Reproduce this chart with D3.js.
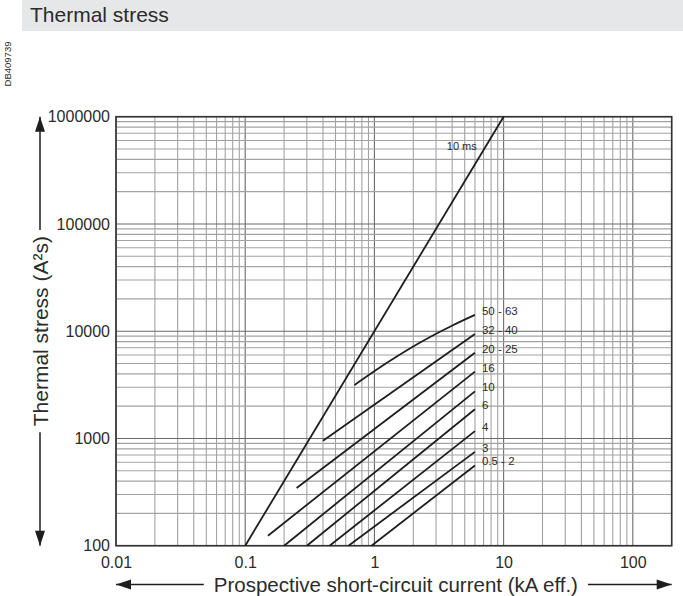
<!DOCTYPE html>
<html>
<head>
<meta charset="utf-8">
<script src="https://cdn.jsdelivr.net/npm/d3@7/dist/d3.min.js"></script>
<style>
  html, body { margin: 0; padding: 0; background: #fff; }
  svg { display: block; font-family: "Liberation Sans", Arial, sans-serif; }
</style>
</head>
<body>
<svg id="chart" width="683" height="596"></svg>
<script>
// ---- Data ----
const titleText = "Thermal stress";
const docCode = "DB409739";
const xTitle = "Prospective short-circuit current (kA eff.)";
const yTitle = "Thermal stress (A²s)";
const xDomain = [0.01, 200];
const yDomain = [100, 1000000];
const xTickValues = [0.01, 0.1, 1, 10, 100];
const xTickLabels = ["0.01", "0.1", "1", "10", "100"];
const yTickValues = [100, 1000, 10000, 100000, 1000000];
const yTickLabels = ["100", "1000", "10000", "100000", "1000000"];

// 10 ms limit line
const limitLabel = "10 ms";
const limitI = [0.1, 10];
const limitI2t = [100, 1000000];

// breaker rating curves
const seriesLabels = ["50 - 63", "32 - 40", "20 - 25", "16", "10", "6", "4", "3", "0.5 - 2"];
const seriesI = [
  [0.7, 1.26, 2.24, 3.98, 6],
  [0.4, 6],
  [0.25, 6],
  [0.15, 6],
  [0.2, 6],
  [0.3, 6],
  [0.45, 6],
  [0.63, 6],
  [0.95, 6]
];
const seriesI2t = [
  [3150, 5100, 7800, 11250, 14200],
  [950, 9400],
  [345, 6300],
  [124, 4200],
  [100, 2750],
  [100, 1870],
  [100, 1170],
  [100, 750],
  [100, 560]
];

// ---- Layout ----
const svg = d3.select("#chart");
const pLeft = 116, pRight = 671.7, pTop = 116.7, pBottom = 545.7;
const x = d3.scaleLog().domain(xDomain).range([pLeft, pRight]);
const y = d3.scaleLog().domain(yDomain).range([pBottom, pTop]);
const textColor = "#2b2b2b";

// Title bar
svg.append("rect").attr("x", 22).attr("y", 0).attr("width", 661).attr("height", 31).attr("fill", "#e6e7e8");
svg.append("text").attr("x", 30).attr("y", 22).attr("font-size", 21).attr("fill", textColor).text(titleText);

// Doc code
svg.append("text")
  .attr("transform", "translate(11,64) rotate(-90)")
  .attr("text-anchor", "middle").attr("font-size", 9.5).attr("fill", textColor)
  .text(docCode);

// Grid
const isDecade = v => Math.abs(Math.log10(v) - Math.round(Math.log10(v))) < 1e-9;
const grid = svg.append("g");
x.ticks().forEach(v => {
  grid.append("line").attr("x1", x(v)).attr("x2", x(v)).attr("y1", pTop).attr("y2", pBottom)
    .attr("stroke", isDecade(v) ? "#6a6a6a" : "#a3a3a3").attr("stroke-width", 1.1);
});
y.ticks().forEach(v => {
  grid.append("line").attr("x1", pLeft).attr("x2", pRight).attr("y1", y(v)).attr("y2", y(v))
    .attr("stroke", isDecade(v) ? "#6a6a6a" : "#a3a3a3").attr("stroke-width", 1.1);
});

// Frame
svg.append("rect").attr("x", pLeft).attr("y", pTop).attr("width", pRight - pLeft).attr("height", pBottom - pTop)
  .attr("fill", "none").attr("stroke", "#333").attr("stroke-width", 1.6);

// Axes (labels only)
const yAxis = d3.axisLeft(y).tickValues(yTickValues).tickSize(0).tickPadding(6)
  .tickFormat((d, i) => yTickLabels[i]);
const gy = svg.append("g").attr("transform", `translate(${pLeft},0)`).call(yAxis);
gy.select(".domain").remove();
gy.selectAll("text").attr("font-size", 16).attr("fill", textColor).attr("font-family", "Liberation Sans, Arial, sans-serif");

const xAxis = d3.axisBottom(x).tickValues(xTickValues).tickSize(0).tickPadding(11)
  .tickFormat((d, i) => xTickLabels[i]);
const gx = svg.append("g").attr("transform", `translate(0,${pBottom})`).call(xAxis);
gx.select(".domain").remove();
gx.selectAll("text").attr("font-size", 16).attr("fill", textColor).attr("font-family", "Liberation Sans, Arial, sans-serif");

// Curves
const line = d3.line().x(d => x(d[0])).y(d => y(d[1])).curve(d3.curveMonotoneX);
const curveColor = "#1e1e1e";
svg.append("path")
  .attr("d", line(limitI.map((v, i) => [v, limitI2t[i]])))
  .attr("fill", "none").attr("stroke", curveColor).attr("stroke-width", 1.8);

seriesLabels.forEach((lab, s) => {
  const pts = seriesI[s].map((v, i) => [v, seriesI2t[s][i]]);
  svg.append("path").attr("d", line(pts))
    .attr("fill", "none").attr("stroke", curveColor).attr("stroke-width", 1.8);
  const last = pts[pts.length - 1];
  svg.append("text").attr("x", x(last[0]) + 7).attr("y", y(last[1]) - 4)
    .attr("dominant-baseline", "central").attr("font-size", 11.5).attr("fill", textColor)
    .text(lab);
});

// 10 ms label: placed just left of the limit line at a chosen I2t level
const labelLevel = 530000;
const lx = x(Math.sqrt(labelLevel / limitI2t[1]) * limitI[1]);
svg.append("text").attr("x", lx - 9).attr("y", y(labelLevel))
  .attr("text-anchor", "end").attr("dominant-baseline", "central")
  .attr("font-size", 11).attr("fill", textColor).text(limitLabel);

// Axis titles with arrows
function arrowHead(xTip, yTip, dir) {
  const L = 15, w = 5;
  let p;
  if (dir === "left") p = [[xTip, yTip], [xTip + L, yTip - w], [xTip + L, yTip + w]];
  if (dir === "right") p = [[xTip, yTip], [xTip - L, yTip - w], [xTip - L, yTip + w]];
  if (dir === "up") p = [[xTip, yTip], [xTip - w, yTip + L], [xTip + w, yTip + L]];
  if (dir === "down") p = [[xTip, yTip], [xTip - w, yTip - L], [xTip + w, yTip - L]];
  svg.append("path").attr("d", "M" + p.map(q => q.join(",")).join("L") + "Z").attr("fill", "#1e1e1e");
}

const xcx = (pLeft + pRight) / 2 + 2, xty = 591.5;
const xt = svg.append("text").attr("x", xcx).attr("y", xty).attr("text-anchor", "middle")
  .attr("font-size", 20.5).attr("fill", textColor).text(xTitle);
const xLen = xt.node().getComputedTextLength();
const xArrowY = xty - 7;
svg.append("line").attr("x1", pLeft).attr("x2", xcx - xLen / 2 - 10).attr("y1", xArrowY).attr("y2", xArrowY)
  .attr("stroke", "#1e1e1e").attr("stroke-width", 1.5);
svg.append("line").attr("x1", xcx + xLen / 2 + 10).attr("x2", pRight).attr("y1", xArrowY).attr("y2", xArrowY)
  .attr("stroke", "#1e1e1e").attr("stroke-width", 1.5);
arrowHead(pLeft, xArrowY, "left");
arrowHead(pRight, xArrowY, "right");

const ycy = (pTop + pBottom) / 2, ytx = 40;
const yt = svg.append("text").attr("transform", `translate(${ytx},${ycy}) rotate(-90)`)
  .attr("text-anchor", "middle").attr("dominant-baseline", "central")
  .attr("font-size", 21).attr("fill", textColor).text(yTitle);
const yLen = yt.node().getComputedTextLength();
svg.append("line").attr("x1", ytx).attr("x2", ytx).attr("y1", pTop).attr("y2", ycy - yLen / 2 - 6)
  .attr("stroke", "#1e1e1e").attr("stroke-width", 1.5);
svg.append("line").attr("x1", ytx).attr("x2", ytx).attr("y1", ycy + yLen / 2 + 6).attr("y2", pBottom)
  .attr("stroke", "#1e1e1e").attr("stroke-width", 1.5);
arrowHead(ytx, pTop, "up");
arrowHead(ytx, pBottom, "down");
</script>
</body>
</html>
